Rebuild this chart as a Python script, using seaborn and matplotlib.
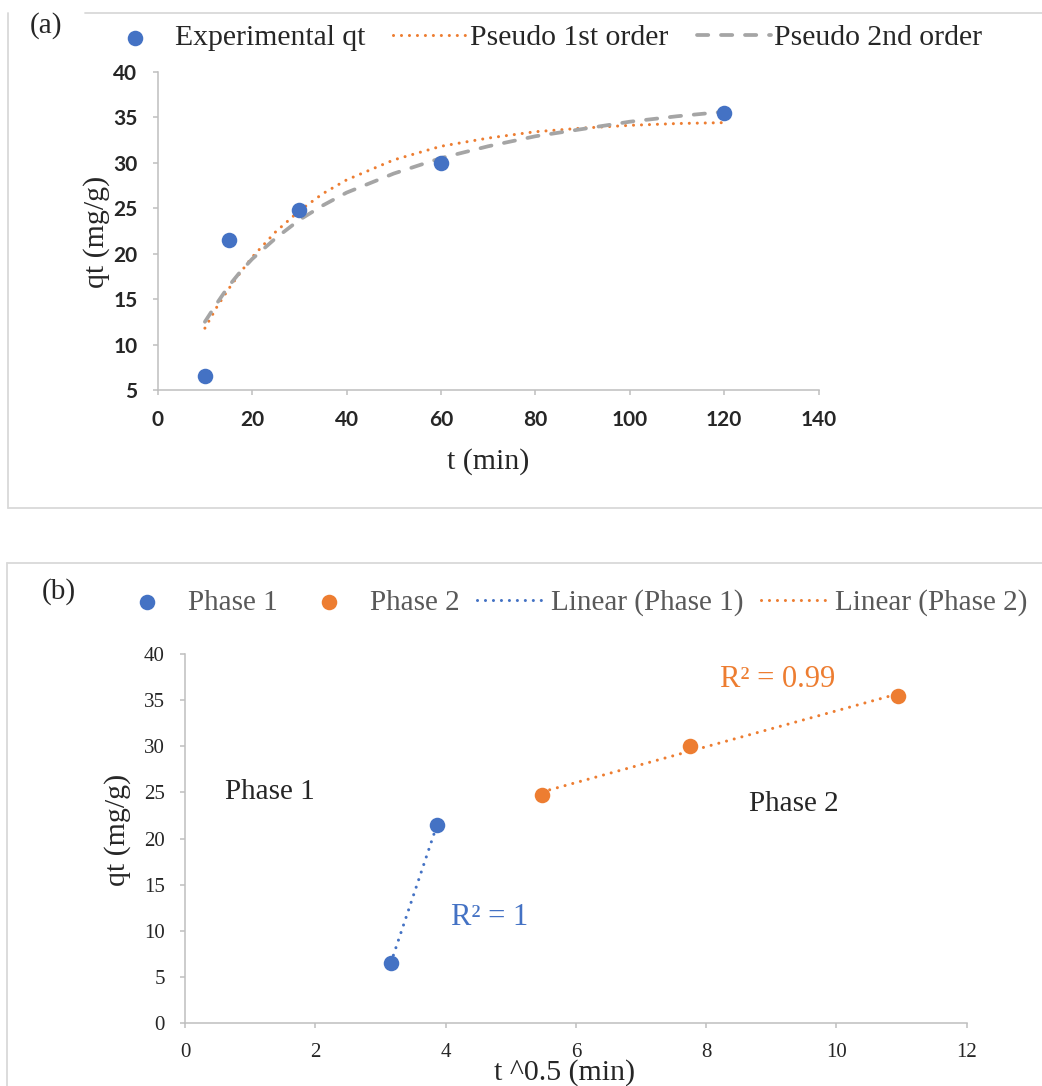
import matplotlib
matplotlib.use("Agg")
import matplotlib.pyplot as plt
import seaborn as sns
from matplotlib.lines import Line2D

# ---------------- data ----------------
# panel (a): kinetics
t_exp = [10, 15, 30, 60, 120]
qt_exp = [6.5, 21.5, 24.75, 30.0, 35.5]
t_fit = [10, 12.5, 15, 17.5, 20, 25, 30, 35, 40, 50, 60, 70, 80, 90, 100, 110, 120]
q_pfo = [11.8, 14.1, 16.1, 17.9, 19.6, 22.4, 24.7, 26.6, 28.1, 30.3, 31.8, 32.7, 33.4, 33.8, 34.1, 34.3, 34.4]
q_pso = [12.5, 14.5, 16.4, 18.0, 19.4, 21.7, 23.7, 25.3, 26.7, 28.8, 30.5, 31.8, 32.9, 33.7, 34.5, 35.1, 35.6]
x_ticks_a = [0, 20, 40, 60, 80, 100, 120, 140]
y_ticks_a = [5, 10, 15, 20, 25, 30, 35, 40]

# panel (b): intraparticle diffusion
sqrt_t_p1 = [3.16, 3.87]
qt_p1 = [6.5, 21.5]
sqrt_t_p2 = [5.48, 7.75, 10.95]
qt_p2 = [24.75, 30.0, 35.5]
x_ticks_b = [0, 2, 4, 6, 8, 10, 12]
y_ticks_b = [0, 5, 10, 15, 20, 25, 30, 35, 40]

BLUE = "#4472C4"
ORANGE = "#ED7D31"
GRAY = "#A5A5A5"
SPINE = "#BFBFBF"
BORDER = "#D9D9D9"
LEG_GRAY = "#595959"

sns.set_style("ticks")
plt.rcParams['font.family'] = ['Liberation Serif', 'DejaVu Serif']

W, H = 1042, 1086
fig = plt.figure(figsize=(W / 100, H / 100), dpi=100)


def fx(px):
    return px / W


def fy(py):
    return 1 - py / H


# panel borders
for (x0, y0, x1, y1) in [(85, 13, W + 5, 13), (8, 13, 8, 508), (8, 508, W + 5, 508),
                         (7, 563, W + 5, 563), (7, 563, 7, H + 5)]:
    fig.add_artist(Line2D([fx(x0), fx(x1)], [fy(y0), fy(y1)], color=BORDER, lw=1.3,
                          transform=fig.transFigure))

fig.text(fx(46), fy(26), "(a)", fontsize=21, ha="center", va="center")
fig.text(fx(59), fy(592), "(b)", fontsize=21, ha="center", va="center")

dot_style = dict(linestyle=(0, (0.01, 2.6)), dash_capstyle="round")
MS = 125

# ---------------- panel (a) ----------------
ax1 = fig.add_axes([fx(157.7), fy(390), fx(818.6) - fx(157.7), fy(71.7) - fy(390)])
sns.scatterplot(x=t_exp, y=qt_exp, ax=ax1, color=BLUE, s=MS, linewidth=0,
                label="Experimental qt", zorder=3)
sns.lineplot(x=t_fit, y=q_pfo, ax=ax1, color=ORANGE, lw=2.2, label="Pseudo 1st order",
             **dot_style)
sns.lineplot(x=t_fit, y=q_pso, ax=ax1, color=GRAY, lw=2.7, label="Pseudo 2nd order",
             linestyle=(0, (3.0, 3.4)), dash_capstyle="round")
ax1.set_xlim(0, 140)
ax1.set_ylim(5, 40)
ax1.set_xticks(x_ticks_a)
ax1.set_yticks(y_ticks_a)
for lbl in ax1.get_xticklabels() + ax1.get_yticklabels():
    lbl.set_fontfamily("Lato")
    lbl.set_fontweight("bold")
    lbl.set_fontsize(15)
ax1.set_xlabel("t (min)", fontsize=21.5)
ax1.set_ylabel("qt (mg/g)", fontsize=21.5)
ax1.xaxis.label.set_va("center")
ax1.yaxis.label.set_va("center")
ax1.xaxis.set_label_coords(0.4998, -0.226)
ax1.yaxis.set_label_coords(-0.092, 0.496)

ax1.legend(loc="center left", bbox_to_anchor=(fx(98), fy(38)), bbox_transform=fig.transFigure,
           ncol=3, frameon=False, fontsize=21.3, handlelength=2.5, handletextpad=0.1,
           columnspacing=0.95, borderpad=0, borderaxespad=0)

# ---------------- panel (b) ----------------
ax2 = fig.add_axes([fx(185), fy(1022.7), fx(966.7) - fx(185), fy(654.3) - fy(1022.7)])
sns.scatterplot(x=sqrt_t_p1, y=qt_p1, ax=ax2, color=BLUE, s=MS, linewidth=0,
                label="Phase 1", zorder=3)
sns.scatterplot(x=sqrt_t_p2, y=qt_p2, ax=ax2, color=ORANGE, s=MS, linewidth=0,
                label="Phase 2", zorder=3)
sns.regplot(x=sqrt_t_p1, y=qt_p1, ax=ax2, scatter=False, ci=None, label="Linear (Phase 1)",
            line_kws=dict(color=BLUE, lw=2.2, **dot_style))
sns.regplot(x=sqrt_t_p2, y=qt_p2, ax=ax2, scatter=False, ci=None, label="Linear (Phase 2)",
            line_kws=dict(color=ORANGE, lw=2.2, **dot_style))
ax2.set_xlim(0, 12)
ax2.set_ylim(0, 40)
ax2.set_xticks(x_ticks_b)
ax2.set_yticks(y_ticks_b)
for lbl in ax2.get_xticklabels() + ax2.get_yticklabels():
    lbl.set_fontsize(15)
ax2.set_xlabel("t ^0.5 (min)", fontsize=21.5)
ax2.set_ylabel("qt (mg/g)", fontsize=21.5)
ax2.xaxis.label.set_va("center")
ax2.yaxis.label.set_va("center")
ax2.xaxis.set_label_coords(0.486, -0.136)
ax2.yaxis.set_label_coords(-0.0857, 0.523)

ax2.text(1.3, 25.1, "Phase 1", fontsize=21, ha="center", va="center")
ax2.text(9.35, 23.8, "Phase 2", fontsize=21, ha="center", va="center")
ax2.text(9.09, 37.3, "R² = 0.99", fontsize=22, ha="center", va="center", color=ORANGE)
ax2.text(4.67, 11.4, "R² = 1", fontsize=22, ha="center", va="center", color=BLUE)

leg2 = ax2.legend(loc="center left", bbox_to_anchor=(fx(113.5), fy(603)),
                  bbox_transform=fig.transFigure, ncol=4, frameon=False, fontsize=21,
                  handlelength=2.33, handletextpad=0.22, columnspacing=0.6,
                  borderpad=0, borderaxespad=0)
for txt in leg2.get_texts():
    txt.set_color(LEG_GRAY)

for ax in (ax1, ax2):
    sns.despine(ax=ax)
    for sp in ("left", "bottom"):
        ax.spines[sp].set_color(SPINE)
        ax.spines[sp].set_linewidth(1.1)
    ax.tick_params(axis="both", length=3.6, width=1.1, color=SPINE, pad=11)

fig.savefig("out.png", dpi=100)
